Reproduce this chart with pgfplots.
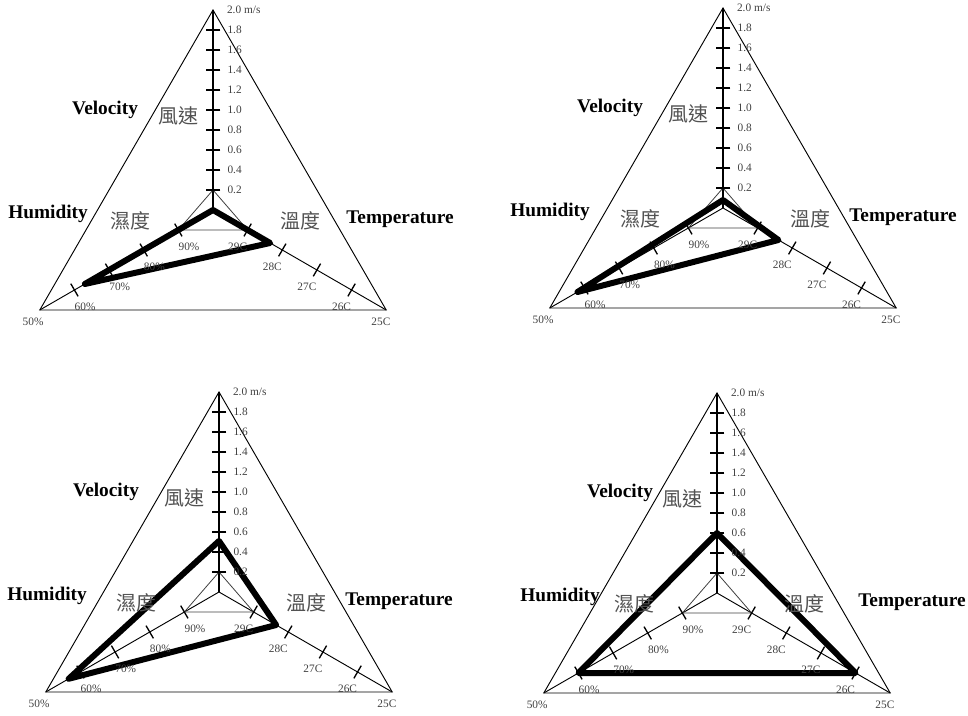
\documentclass[border=0pt]{standalone}
\usepackage{pgfplots}
\pgfplotsset{compat=1.18}
\usepackage{pgfplotstable}
\usepackage{fontspec}
\setmainfont{Liberation Serif}
\newfontfamily\cjk{Noto Sans CJK TC}

% radial transform: value -> fraction of axis (lo at centre, hi at corner)
\def\rx{(\thisrow{val}-\thisrow{lo})/(\thisrow{hi}-\thisrow{lo})*cos(\thisrow{ang})}
\def\ry{(\thisrow{val}-\thisrow{lo})/(\thisrow{hi}-\thisrow{lo})*sin(\thisrow{ang})}

\pgfplotstableread{
ang lo hi val
90 0 2 2.0
210 100 50 50
330 30 25 25
}\frametab
\pgfplotstableread{
ang lo hi val
90 0 2 0.2
210 100 50 90
330 30 25 29
}\reftab
\pgfplotstableread{
ang lo hi val
90 0 2 0.2
90 0 2 0.4
90 0 2 0.6
90 0 2 0.8
90 0 2 1.0
90 0 2 1.2
90 0 2 1.4
90 0 2 1.6
90 0 2 1.8
}\vtick
\pgfplotstableread{
ang lo hi val
210 100 50 90
210 100 50 80
210 100 50 70
210 100 50 60
}\htick
\pgfplotstableread{
ang lo hi val
330 30 25 29
330 30 25 28
330 30 25 27
330 30 25 26
}\ttick

% measured conditions: velocity (m/s), humidity (%), temperature (C)
\pgfplotstableread{
ang lo hi val
90 0 2 0.0
210 100 50 63
330 30 25 28.35
}\dataA
\pgfplotstableread{
ang lo hi val
90 0 2 0.08
210 100 50 58
330 30 25 28.4
}\dataB
\pgfplotstableread{
ang lo hi val
90 0 2 0.51
210 100 50 56.6
330 30 25 28.35
}\dataC
\pgfplotstableread{
ang lo hi val
90 0 2 0.6
210 100 50 60
330 30 25 26
}\dataD

\newcommand{\smallf}{\fontsize{8.5}{9}\selectfont}
\newcommand{\panel}[5]{%
\begin{axis}[at={#1}, anchor=origin, x=150pt, y=150pt,
  xmin=-1, xmax=1, ymin=-0.6, ymax=1.05, hide axis, clip=false]
\addplot[black, line width=0.7pt, mark=none] table[x expr=\rx, y expr=\ry] {\frametab} -- cycle;
\addplot[black, line width=0.9pt, mark=none] coordinates {(0,0) (0,1)};
\addplot[black, line width=0.7pt, mark=none] coordinates {(-0.8660,-0.5) (0,0) (0.8660,-0.5)};
\addplot[black!75, line width=0.6pt, mark=none] table[x expr=\rx, y expr=\ry] {\reftab} -- cycle;
\addplot[only marks, mark=-, mark size=5.5pt, mark options={line width=1.2pt, black},
  point meta=explicit symbolic, nodes near coords,
  every node near coord/.style={anchor=west, xshift=7pt, font=\smallf, text=black!75}]
  table[x expr=\rx, y expr=\ry, meta=val] {\vtick};
\addplot[only marks, mark=|, mark size=5.5pt, mark options={line width=1.0pt, black, rotate=30},
  point meta=explicit symbolic, nodes near coords={\pgfplotspointmeta\%},
  every node near coord/.style={anchor=center, xshift=8pt, yshift=-12.75pt, font=\smallf, text=black!75}]
  table[x expr=\rx, y expr=\ry, meta=val] {\htick};
\addplot[only marks, mark=|, mark size=5.5pt, mark options={line width=1.0pt, black, rotate=-30},
  point meta=explicit symbolic, nodes near coords={\pgfplotspointmeta C},
  every node near coord/.style={anchor=center, xshift=-7.5pt, yshift=-12.75pt, font=\smallf, text=black!75}]
  table[x expr=\rx, y expr=\ry, meta=val] {\ttick};
\addplot[black, line width=4.5pt, line join=round, mark=none] table[x expr=\rx, y expr=\ry] {#2} -- cycle;
\node[anchor=west, font=\smallf, text=black!75, xshift=7pt] at (axis cs:0,1) {2.0 m/s};
\node[font=\smallf, text=black!75, xshift=-5pt, yshift=-9pt] at (axis cs:-0.8660,-0.5) {50\%};
\node[font=\smallf, text=black!75, xshift=-4pt, yshift=-9pt] at (axis cs:0.8660,-0.5) {25C};
\node[font=\fontsize{14.5}{16}\selectfont\bfseries] at (axis cs:#3,0.5) {Velocity};
\node[font=\fontsize{14.5}{16}\selectfont\bfseries] at (axis cs:#4,-0.02) {Humidity};
\node[font=\fontsize{14.5}{16}\selectfont\bfseries] at (axis cs:#5,-0.045) {Temperature};
\node[font=\cjk\fontsize{15}{16}\selectfont, text=black!68] at (axis cs:-0.175,0.47) {風速};
\node[font=\cjk\fontsize{15}{16}\selectfont, text=black!68] at (axis cs:-0.415,-0.055) {濕度};
\node[font=\cjk\fontsize{15}{16}\selectfont, text=black!68] at (axis cs:0.435,-0.055) {溫度};
\end{axis}}

\begin{document}
\begin{tikzpicture}
\useasboundingbox (0,0) rectangle (726pt,536.25pt);
\panel{(159.75pt,378.75pt)}{\dataA}{-0.54}{-0.825}{0.935}
\panel{(542.25pt,380.25pt)}{\dataB}{-0.565}{-0.865}{0.9}
\panel{(164.25pt,92.25pt)}{\dataC}{-0.565}{-0.86}{0.9}
\panel{(537.75pt,91.5pt)}{\dataD}{-0.485}{-0.785}{0.975}
\end{tikzpicture}
\end{document}
